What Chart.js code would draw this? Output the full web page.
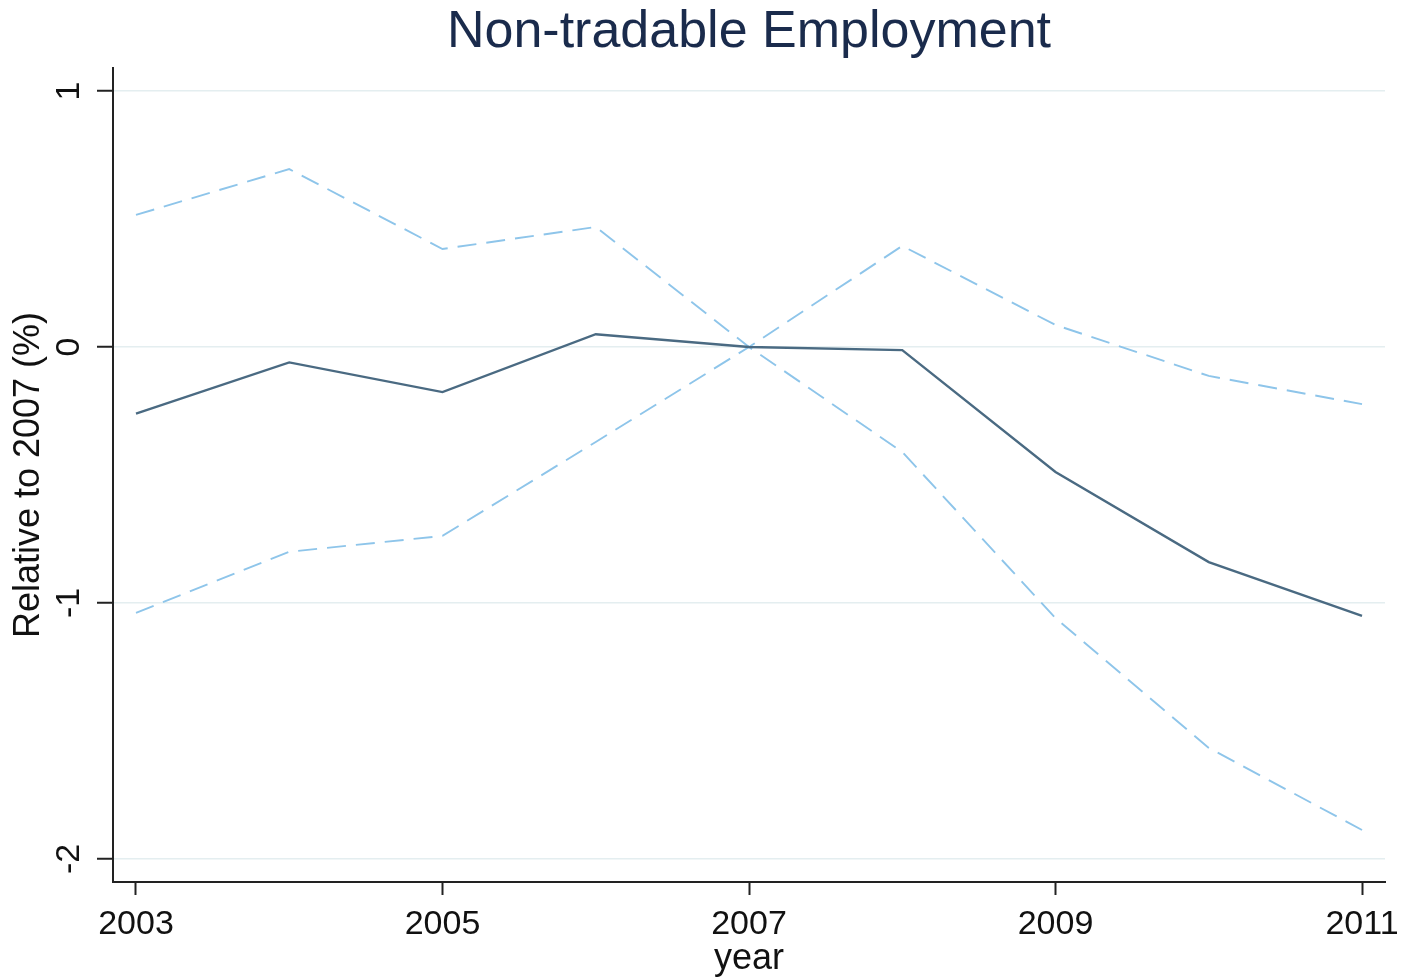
<!DOCTYPE html>
<html>
<head>
<meta charset="utf-8">
<title>Non-tradable Employment</title>
<script src="https://cdn.jsdelivr.net/npm/chart.js@4.4.1/dist/chart.umd.min.js"></script>
<style>
  html, body { margin: 0; padding: 0; background: #fff; }
  #wrap { width: 1405px; height: 979px; }
</style>
</head>
<body>
<div id="wrap"><canvas id="empChart" width="1405" height="979"></canvas></div>
<script>
const years = [2003, 2004, 2005, 2006, 2007, 2008, 2009, 2010, 2011];
// point estimate and the two dashed confidence bounds (they cross at 2007)
const estimate = [-0.26, -0.06, -0.176, 0.05, 0, -0.012, -0.488, -0.84, -1.05];
const boundA = [0.516, 0.695, 0.383, 0.469, 0, -0.41, -1.059, -1.566, -1.887];
const boundB = [-1.039, -0.80, -0.738, -0.371, 0, 0.395, 0.086, -0.113, -0.223];
const xTicks = [2003, 2005, 2007, 2009, 2011];
const yTicks = [-2, -1, 0, 1];

const FONT = '"Liberation Sans", Arial, sans-serif';

const pts = vals => years.map((yr, i) => ({ x: yr, y: vals[i] }));

// y tick labels in this style run vertically, so draw them ourselves
const rotatedYLabels = {
  id: 'rotatedYLabels',
  afterDraw(chart) {
    const scale = chart.scales.y;
    const c = chart.ctx;
    c.save();
    c.font = '34px ' + FONT;
    c.fillStyle = '#111';
    c.textAlign = 'center';
    c.textBaseline = 'middle';
    scale.ticks.forEach(t => {
      c.save();
      c.translate(70, scale.getPixelForValue(t.value));
      c.rotate(-Math.PI / 2);
      c.fillText(String(t.value), 0, 0);
      c.restore();
    });
    c.restore();
  }
};

const ctx = document.getElementById('empChart').getContext('2d');
const empChart = new Chart(ctx, {
  type: 'line',
  data: {
    datasets: [
      { label: 'Estimate', data: pts(estimate), borderColor: '#4a6a82', borderWidth: 2.4, pointRadius: 0, tension: 0 },
      { label: 'Bound A', data: pts(boundA), borderColor: '#8ec5ea', borderWidth: 1.9, borderDash: [19, 10], pointRadius: 0, tension: 0 },
      { label: 'Bound B', data: pts(boundB), borderColor: '#8ec5ea', borderWidth: 1.9, borderDash: [19, 10], pointRadius: 0, tension: 0 }
    ]
  },
  options: {
    responsive: false,
    animation: false,
    layout: { padding: { left: 0, right: 20, top: 0, bottom: 0 } },
    plugins: {
      legend: { display: false },
      tooltip: { enabled: false },
      title: {
        display: true,
        fullSize: false,
        text: 'Non-tradable Employment',
        color: '#1a2b4c',
        font: { size: 52, family: FONT, weight: 'normal' },
        padding: { top: 1.5, bottom: 4.1 }
      }
    },
    scales: {
      x: {
        type: 'linear',
        min: 2002.85,
        max: 2011.15,
        afterBuildTicks: s => { s.ticks = xTicks.map(v => ({ value: v })); },
        afterFit: s => { s.height = 97; s.paddingLeft = 0; s.paddingRight = 0; },
        ticks: { color: '#111', font: { size: 34, family: FONT }, padding: 9, maxRotation: 0, callback: v => String(v) },
        grid: { drawOnChartArea: false, drawTicks: true, tickLength: 13, tickWidth: 2, tickColor: '#222' },
        border: { color: '#222', width: 2 },
        title: { display: true, text: 'year', color: '#111', font: { size: 36, family: FONT }, padding: { top: 0, bottom: -2 } }
      },
      y: {
        min: -2.09,
        max: 1.09,
        afterBuildTicks: s => { s.ticks = yTicks.map(v => ({ value: v })); },
        afterFit: s => { s.width = 113; },
        ticks: { display: false },
        grid: { color: '#e4eef0', lineWidth: 1.5, tickLength: 16, tickWidth: 2, tickColor: '#222' },
        border: { color: '#222', width: 2 },
        title: { display: true, text: 'Relative to 2007 (%)', color: '#111', font: { size: 36, family: FONT }, padding: { top: 7, bottom: 0 } }
      }
    }
  },
  plugins: [rotatedYLabels]
});
</script>
</body>
</html>
